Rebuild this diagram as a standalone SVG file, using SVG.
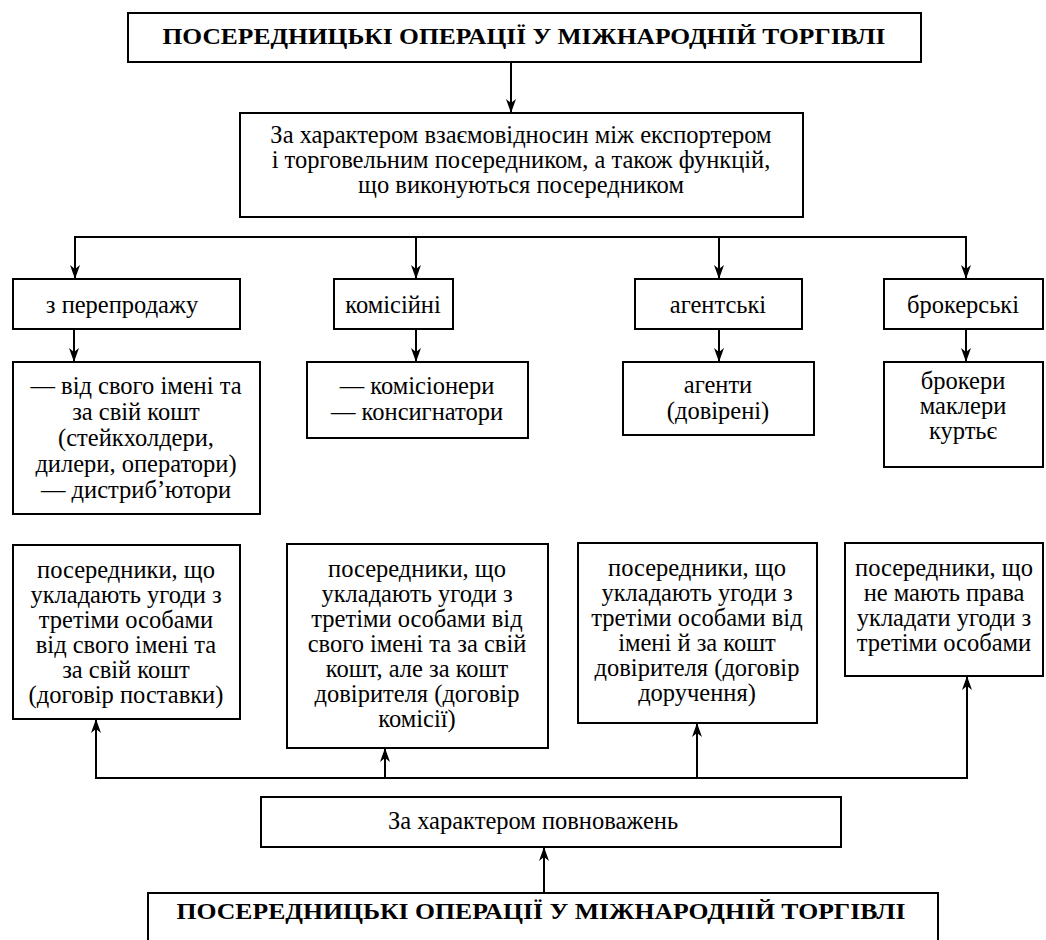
<svg xmlns="http://www.w3.org/2000/svg" width="1046" height="940" viewBox="0 0 1046 940">
<style>
rect{fill:#fff;stroke:#000;stroke-width:2}
text{font-family:"Liberation Serif","Times New Roman",serif;font-size:24.5px;fill:#000;text-anchor:middle}
.t{font-weight:bold;font-size:23px}
.c line{stroke:#000;stroke-width:2}
</style>
<defs>
<marker id="a" viewBox="0 0 14 10" refX="14" refY="5" markerWidth="14" markerHeight="10" markerUnits="userSpaceOnUse" orient="auto">
<path d="M0,0 L14,5 L0,10 L4,5 Z" fill="#000"/>
</marker>
</defs>
<rect width="1046" height="940" style="fill:#fff;stroke:none"/>
<g class="c" id="connectors">
<line x1="511" y1="62" x2="511" y2="113" marker-end="url(#a)"/>
<line x1="75" y1="237" x2="966" y2="237"/>
<line x1="75" y1="236" x2="75" y2="279" marker-end="url(#a)"/>
<line x1="416" y1="237" x2="416" y2="279" marker-end="url(#a)"/>
<line x1="719" y1="237" x2="719" y2="279" marker-end="url(#a)"/>
<line x1="966" y1="236" x2="966" y2="279" marker-end="url(#a)"/>
<line x1="74" y1="329" x2="74" y2="362" marker-end="url(#a)"/>
<line x1="416" y1="329" x2="416" y2="362" marker-end="url(#a)"/>
<line x1="719" y1="329" x2="719" y2="362" marker-end="url(#a)"/>
<line x1="966" y1="329" x2="966" y2="362" marker-end="url(#a)"/>
<line x1="96" y1="778" x2="967" y2="778"/>
<line x1="96" y1="779" x2="96" y2="719" marker-end="url(#a)"/>
<line x1="385" y1="778" x2="385" y2="748" marker-end="url(#a)"/>
<line x1="697" y1="778" x2="697" y2="723" marker-end="url(#a)"/>
<line x1="967" y1="779" x2="967" y2="676" marker-end="url(#a)"/>
<line x1="544" y1="893" x2="544" y2="847" marker-end="url(#a)"/>
</g>
<g id="title-top">
<rect x="128" y="13" width="793" height="49"/>
<text class="t" x="524" y="44" textLength="723" lengthAdjust="spacingAndGlyphs">ПОСЕРЕДНИЦЬКІ ОПЕРАЦІЇ У МІЖНАРОДНІЙ ТОРГІВЛІ</text>
</g>
<g id="criterion-top">
<rect x="240" y="113" width="563" height="104"/>
<text x="521" y="143">За характером взаємовідносин між експортером</text>
<text x="521" y="168">і торговельним посередником, а також функцій,</text>
<text x="521" y="193">що виконуються посередником</text>
</g>
<g id="resale">
<rect x="13" y="279" width="227" height="50"/>
<text x="122" y="313">з перепродажу</text>
</g>
<g id="commission">
<rect x="334" y="279" width="119" height="50"/>
<text x="393" y="313">комісійні</text>
</g>
<g id="agency">
<rect x="635" y="279" width="167" height="50"/>
<text x="718" y="313">агентські</text>
</g>
<g id="brokerage">
<rect x="884" y="279" width="159" height="50"/>
<text x="963" y="313">брокерські</text>
</g>
<g id="resale-types">
<rect x="13" y="362" width="247" height="152"/>
<text x="136" y="394">— від свого імені та</text>
<text x="136" y="420">за свій кошт</text>
<text x="136" y="446">(стейкхолдери,</text>
<text x="136" y="472">дилери, оператори)</text>
<text x="136" y="498">— дистриб’ютори</text>
</g>
<g id="commission-types">
<rect x="307" y="362" width="221" height="76"/>
<text x="417" y="394">— комісіонери</text>
<text x="417" y="420">— консигнатори</text>
</g>
<g id="agency-types">
<rect x="623" y="362" width="191" height="73"/>
<text x="718" y="393">агенти</text>
<text x="718" y="419">(довірені)</text>
</g>
<g id="brokerage-types">
<rect x="884" y="362" width="159" height="105"/>
<text x="963" y="389">брокери</text>
<text x="963" y="414">маклери</text>
<text x="963" y="439">куртьє</text>
</g>
<g id="supply">
<rect x="13" y="545" width="227" height="174"/>
<text x="126" y="578">посередники, що</text>
<text x="126" y="603">укладають угоди з</text>
<text x="126" y="628">третіми особами</text>
<text x="126" y="653">від свого імені та</text>
<text x="126" y="678">за свій кошт</text>
<text x="126" y="703">(договір поставки)</text>
</g>
<g id="commission-contract">
<rect x="287" y="544" width="261" height="204"/>
<text x="417" y="577">посередники, що</text>
<text x="417" y="602">укладають угоди з</text>
<text x="417" y="627">третіми особами від</text>
<text x="417" y="652">свого імені та за свій</text>
<text x="417" y="677">кошт, але за кошт</text>
<text x="417" y="702">довірителя (договір</text>
<text x="417" y="727">комісії)</text>
</g>
<g id="mandate">
<rect x="578" y="543" width="239" height="180"/>
<text x="697" y="576">посередники, що</text>
<text x="697" y="601">укладають угоди з</text>
<text x="697" y="626">третіми особами від</text>
<text x="697" y="651">імені й за кошт</text>
<text x="697" y="676">довірителя (договір</text>
<text x="697" y="701">доручення)</text>
</g>
<g id="no-right">
<rect x="845" y="543" width="198" height="133"/>
<text x="944" y="576">посередники, що</text>
<text x="944" y="601">не мають права</text>
<text x="944" y="626">укладати угоди з</text>
<text x="944" y="651">третіми особами</text>
</g>
<g id="criterion-bottom">
<rect x="261" y="797" width="580" height="50"/>
<text x="533" y="829">За характером повноважень</text>
</g>
<g id="title-bottom">
<rect x="148" y="893" width="790" height="70"/>
<text class="t" x="541" y="919" textLength="729" lengthAdjust="spacingAndGlyphs">ПОСЕРЕДНИЦЬКІ ОПЕРАЦІЇ У МІЖНАРОДНІЙ ТОРГІВЛІ</text>
</g>
</svg>
